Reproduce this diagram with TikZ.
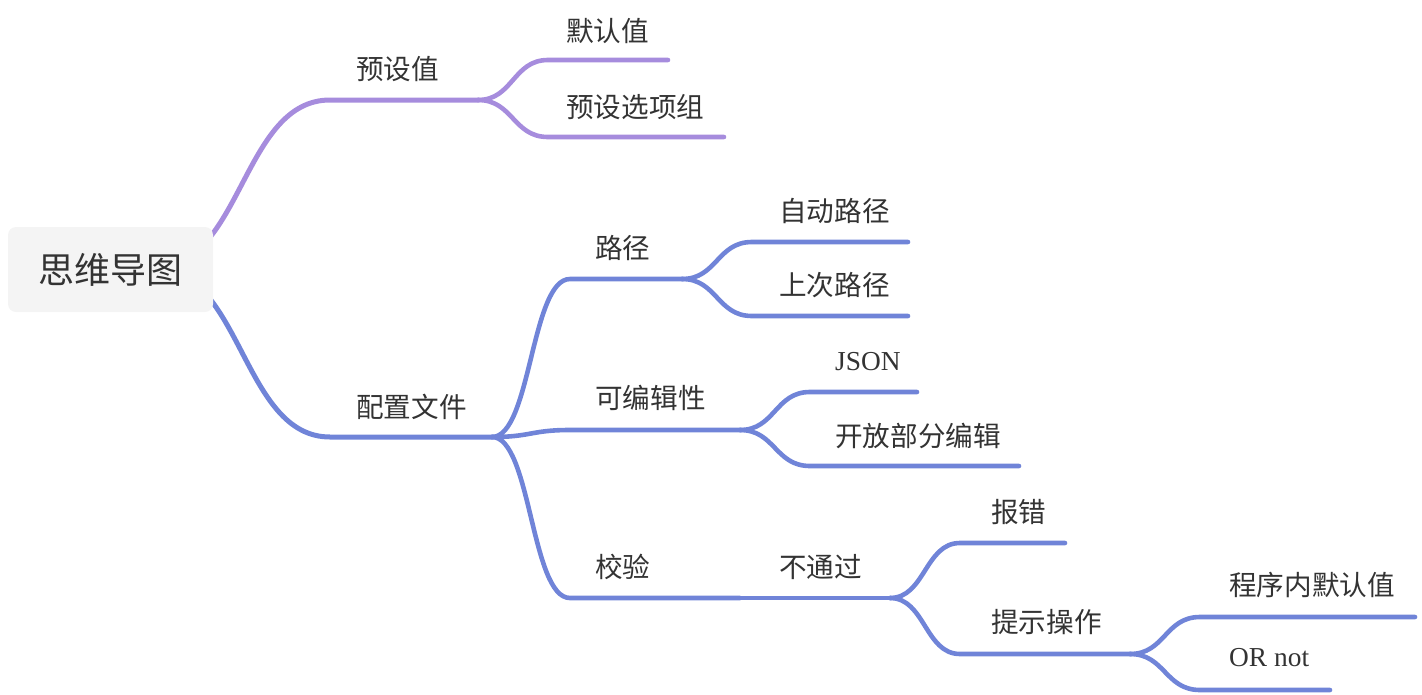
\documentclass[tikz,border=0pt]{standalone}
\usepackage{fontspec}
\setmainfont{Liberation Serif}
\newfontfamily\cjk{Noto Sans CJK SC}
\definecolor{purp}{HTML}{A68CDD}
\definecolor{blu}{HTML}{7084D8}
\definecolor{txt}{HTML}{333333}
\definecolor{rootbg}{HTML}{F4F4F4}
\tikzset{
  lbl/.style={anchor=west, inner sep=0pt, text=txt, font=\fontsize{27.6}{30}\selectfont\cjk},
  lat/.style={anchor=west, inner sep=0pt, text=txt, font=\fontsize{27.4}{30}\selectfont},
  br/.style={line width=4.6pt, line cap=round},
  brone/.style={line width=5pt, line cap=round},
}
\begin{document}
\begin{tikzpicture}[x=1pt,y=-1pt]
\useasboundingbox (0,0) rectangle (1422,694);
% coordinates
\coordinate (r0) at (154,268);
\coordinate (a1) at (330,100); \coordinate (a2) at (478,100);
\coordinate (b1) at (330,437); \coordinate (b2) at (492,437);
\coordinate (c1) at (548,60);  \coordinate (c2) at (668,60);
\coordinate (d1) at (548,137); \coordinate (d2) at (724,137);
\coordinate (e1) at (570,279); \coordinate (e2) at (682,279);
\coordinate (f1) at (570,430); \coordinate (f2) at (740,430);
\coordinate (g1) at (570,598); \coordinate (g2) at (740,598);
\coordinate (h2) at (890,598);
\coordinate (i1) at (752,242); \coordinate (i2) at (908,242);
\coordinate (j1) at (752,316); \coordinate (j2) at (908,316);
\coordinate (k1) at (810,392); \coordinate (k2) at (917,392);
\coordinate (l1) at (810,466); \coordinate (l2) at (1019,466);
\coordinate (m1) at (960,543); \coordinate (m2) at (1065,543);
\coordinate (n1) at (960,654); \coordinate (n2) at (1130,654);
\coordinate (o1) at (1200,617); \coordinate (o2) at (1415,617);
\coordinate (p1) at (1200,690); \coordinate (p2) at (1330,690);
% level 1
\draw[brone, purp] (r0) .. controls (242,268) and (242,100) .. (a1) -- (a2);
\draw[brone, blu] (r0) .. controls (242,268) and (242,437) .. (b1) -- (b2);
% purple children
\draw[br, purp] (a2) .. controls (513,100) and (513,60) .. (c1) -- (c2);
\draw[br, purp] (a2) .. controls (513,100) and (513,137) .. (d1) -- (d2);
% blue level 2
\draw[br, blu] (b2) .. controls (531,437) and (531,279) .. (e1) -- (e2);
\draw[br, blu] (b2) .. controls (531,437) and (531,430) .. (f1) -- (f2);
\draw[br, blu] (b2) .. controls (531,437) and (531,598) .. (g1) -- (g2);
\draw[br, blu] (g2) -- (h2);
% level 3
\draw[br, blu] (e2) .. controls (717,279) and (717,242) .. (i1) -- (i2);
\draw[br, blu] (e2) .. controls (717,279) and (717,316) .. (j1) -- (j2);
\draw[br, blu] (f2) .. controls (775,430) and (775,392) .. (k1) -- (k2);
\draw[br, blu] (f2) .. controls (775,430) and (775,466) .. (l1) -- (l2);
\draw[br, blu] (h2) .. controls (925,598) and (925,543) .. (m1) -- (m2);
\draw[br, blu] (h2) .. controls (925,598) and (925,654) .. (n1) -- (n2);
\draw[br, blu] (n2) .. controls (1165,654) and (1165,617) .. (o1) -- (o2);
\draw[br, blu] (n2) .. controls (1165,654) and (1165,690) .. (p1) -- (p2);
% root
\node[fill=rootbg, rounded corners=8pt, minimum width=205pt, minimum height=85pt, inner sep=0pt,
      text=txt, font=\fontsize{36}{40}\selectfont\cjk] (root) at (110.5,269.5) {思维导图};
% labels
\node[lbl] (t1) at (356,69) {预设值};
\node[lbl] (t2) at (566,31) {默认值};
\node[lbl] (t3) at (566,107) {预设选项组};
\node[lbl] (t4) at (356,407) {配置文件};
\node[lbl] (t5) at (595,248) {路径};
\node[lbl] (t6) at (595,398) {可编辑性};
\node[lbl] (t7) at (595,567) {校验};
\node[lbl] (t8) at (779,567) {不通过};
\node[lbl] (t9) at (779,211) {自动路径};
\node[lbl] (t10) at (779,285) {上次路径};
\node[lat] (t11) at (835,362) {JSON};
\node[lbl] (t12) at (835,436) {开放部分编辑};
\node[lbl] (t13) at (991,512) {报错};
\node[lbl] (t14) at (991,622) {提示操作};
\node[lbl] (t15) at (1229,585) {程序内默认值};
\node[lat] (t16) at (1229,658) {OR not};
\end{tikzpicture}
\end{document}
